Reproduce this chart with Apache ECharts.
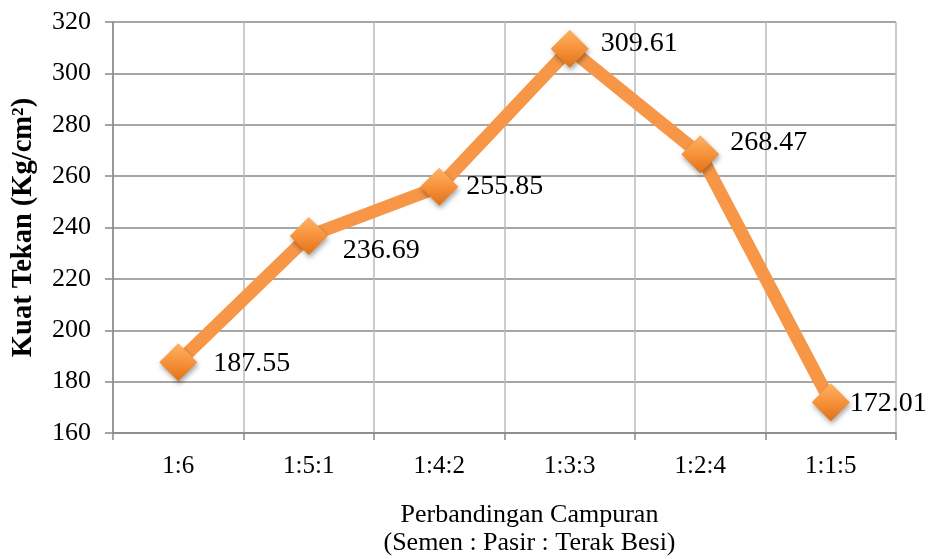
<!DOCTYPE html>
<html><head><meta charset="utf-8">
<script src="https://cdn.jsdelivr.net/npm/echarts@6/dist/echarts.min.js"></script>
<style>html,body{margin:0;padding:0;background:#fff}#c{width:928px;height:559px}</style>
</head><body><div id="c"></div>
<script>
var categories = ['1:6', '1:5:1', '1:4:2', '1:3:3', '1:2:4', '1:1:5'];
var values = [187.55, 236.69, 255.85, 309.61, 268.47, 172.01];
var yTicks = [160, 180, 200, 220, 240, 260, 280, 300, 320];
var labelOffsets = [[2, 1], [1, 15], [-6, 0], [-2, -5], [-3, -12], [-14, 1]];

var font = '"Liberation Serif", "Times New Roman", serif';
var chart = echarts.init(document.getElementById('c'), null, {renderer: 'canvas'});
var data = values.map(function (v, i) {
  return {
    value: v,
    label: {offset: labelOffsets[i]}
  };
});
chart.setOption({
  animation: false,
  backgroundColor: '#fff',
  grid: {left: 113, right: 32, top: 22, bottom: 126, containLabel: false, outerBoundsMode: 'none'},
  xAxis: {
    type: 'category',
    data: categories,
    boundaryGap: true,
    name: 'Perbandingan Campuran\n(Semen : Pasir : Terak Besi)',
    nameLocation: 'middle',
    nameGap: 68,
    nameTextStyle: {fontFamily: font, fontSize: 26, color: '#000', lineHeight: 28, verticalAlign: 'top', padding: [0, 0, 0, 50]},
    axisLine: {lineStyle: {color: '#888', width: 1.5}},
    axisTick: {show: true, length: 7, lineStyle: {color: '#888', width: 1.5}},
    axisLabel: {fontFamily: font, fontSize: 25, color: '#000', margin: 21},
    splitLine: {show: true, lineStyle: {color: '#bbb', width: 1.5}}
  },
  yAxis: {
    type: 'value',
    min: yTicks[0],
    max: yTicks[yTicks.length - 1],
    interval: 20,
    name: 'Kuat Tekan (Kg/cm²)',
    nameLocation: 'middle',
    nameGap: 75,
    nameTextStyle: {fontFamily: font, fontSize: 28.5, fontWeight: 'bold', color: '#000'},
    axisLine: {show: true, lineStyle: {color: '#888', width: 1.5}},
    axisTick: {show: true, length: 8, lineStyle: {color: '#888', width: 1.5}},
    axisLabel: {fontFamily: font, fontSize: 26, color: '#000', margin: 22},
    splitLine: {show: true, lineStyle: {color: '#888', width: 1.5}}
  },
  series: [{
    type: 'line',
    data: data,
    symbol: 'diamond',
    symbolSize: 38,
    lineStyle: {color: '#F79646', width: 13},
    itemStyle: {
      color: new echarts.graphic.LinearGradient(0, 0, 0, 1, [
        {offset: 0, color: '#FDB366'},
        {offset: 0.5, color: '#F7923A'},
        {offset: 1, color: '#E07116'}
      ]),
      shadowBlur: 5,
      shadowColor: 'rgba(0,0,0,0.35)',
      shadowOffsetX: 1,
      shadowOffsetY: 3
    },
    label: {
      show: true,
      position: 'right',
      distance: 14,
      fontFamily: font,
      fontSize: 28,
      color: '#000',
      formatter: function (p) { return p.value.toFixed(2); }
    }
  }]
});
</script></body></html>
